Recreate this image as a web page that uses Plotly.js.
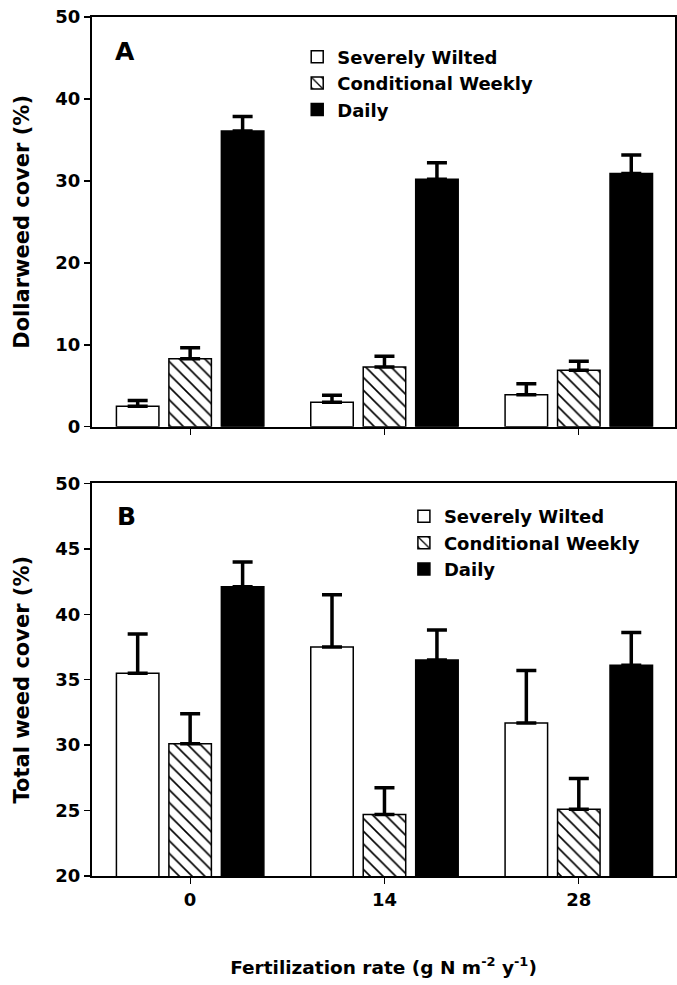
<!DOCTYPE html>
<html>
<head>
<meta charset="utf-8">
<script src="https://cdn.plot.ly/plotly-3.0.1.min.js"></script>
<style>
  html, body { margin: 0; padding: 0; background: #fff; }
  #chart { width: 677px; height: 985px; }
</style>
</head>
<body>
<div id="chart"></div>
<script>
// ---- Data ----
const categories = ['0', '14', '28'];
const seriesNames = ['Severely Wilted', 'Conditional Weekly', 'Daily'];

// Panel A: Dollarweed cover (%)
const dollarSevere = [2.5, 3.0, 3.9];
const dollarSevereErr = [0.7, 0.85, 1.35];
const dollarWeekly = [8.3, 7.3, 6.9];
const dollarWeeklyErr = [1.35, 1.3, 1.1];
const dollarDaily = [36.1, 30.2, 30.9];
const dollarDailyErr = [1.75, 2.0, 2.25];

// Panel B: Total weed cover (%)
const totalSevere = [35.5, 37.5, 31.7];
const totalSevereErr = [3.0, 4.0, 4.0];
const totalWeekly = [30.1, 24.7, 25.1];
const totalWeeklyErr = [2.3, 2.05, 2.35];
const totalDaily = [42.1, 36.5, 36.1];
const totalDailyErr = [1.9, 2.3, 2.5];

// ---- Styles ----
const FONT = 'DejaVu Sans';
const styles = [
  { color: '#ffffff', pattern: null },
  { color: '#ffffff', pattern: { shape: '\\', fgcolor: '#000000', bgcolor: '#ffffff', size: 9, solidity: 0.18 } },
  { color: '#000000', pattern: null }
];

function makeBar(name, y, err, idx, xa, ya, legendId) {
  const st = styles[idx];
  const marker = { color: st.color, line: { color: '#000000', width: 1.5 } };
  if (st.pattern) marker.pattern = st.pattern;
  return {
    type: 'bar',
    name: name,
    x: categories,
    y: y,
    xaxis: xa,
    yaxis: ya,
    legend: legendId,
    showlegend: true,
    marker: marker,
    error_y: {
      type: 'data',
      symmetric: false,
      array: err,
      arrayminus: err.map(() => 0),
      color: '#000000',
      thickness: 3.5,
      width: 10
    },
    hoverinfo: 'skip'
  };
}

const traces = [
  makeBar(seriesNames[0], dollarSevere, dollarSevereErr, 0, 'x2', 'y2', 'legend'),
  makeBar(seriesNames[1], dollarWeekly, dollarWeeklyErr, 1, 'x2', 'y2', 'legend'),
  makeBar(seriesNames[2], dollarDaily, dollarDailyErr, 2, 'x2', 'y2', 'legend'),
  makeBar(seriesNames[0], totalSevere, totalSevereErr, 0, 'x', 'y', 'legend2'),
  makeBar(seriesNames[1], totalWeekly, totalWeeklyErr, 1, 'x', 'y', 'legend2'),
  makeBar(seriesNames[2], totalDaily, totalDailyErr, 2, 'x', 'y', 'legend2')
];

const tickFont = { family: FONT, size: 18, color: '#000', weight: 'bold' };
const titleFont = { family: FONT, size: 21, color: '#000', weight: 'bold' };
const legendFont = { family: FONT, size: 18, color: '#000', weight: 'bold' };

const xCommon = {
  type: 'category',
  range: [-0.505, 2.495],
  showline: true, linecolor: '#000', linewidth: 2, mirror: true,
  ticks: 'outside', ticklen: 6, tickwidth: 1, tickcolor: '#000',
  showgrid: false, zeroline: false,
  tickfont: tickFont
};
const yCommon = {
  showline: true, linecolor: '#000', linewidth: 2, mirror: true,
  ticks: 'outside', ticklen: 6, tickwidth: 1.5, tickcolor: '#000',
  showgrid: false, zeroline: false,
  tickfont: tickFont
};

const layout = {
  width: 677,
  height: 985,
  margin: { l: 92, r: 2, t: 17, b: 109 },
  paper_bgcolor: '#fff',
  plot_bgcolor: '#fff',
  font: { family: FONT, size: 18, color: '#000', weight: 'bold' },
  barmode: 'group',
  bargap: 0.19,
  bargroupgap: 0.19,
  xaxis: Object.assign({}, xCommon, {
    anchor: 'y',
    title: { text: 'Fertilization rate (g N m<sup>-2</sup> y<sup>-1</sup>)', font: { family: FONT, size: 18.5, color: '#000', weight: 'bold' }, standoff: 52 }
  }),
  yaxis: Object.assign({}, yCommon, {
    domain: [0, 0.457],
    range: [20, 50],
    dtick: 5,
    title: { text: 'Total weed cover (%)', font: titleFont, standoff: 20 }
  }),
  xaxis2: Object.assign({}, xCommon, {
    anchor: 'y2',
    showticklabels: false
  }),
  yaxis2: Object.assign({}, yCommon, {
    domain: [0.523, 1],
    range: [0, 50],
    dtick: 10,
    title: { text: 'Dollarweed cover (%)', font: titleFont, standoff: 20 }
  }),
  legend: {
    x: 0.352, xanchor: 'left', xref: 'paper',
    y: 0.975, yanchor: 'top', yref: 'paper',
    bgcolor: 'rgba(0,0,0,0)', borderwidth: 0,
    font: legendFont, traceorder: 'normal'
  },
  legend2: {
    x: 0.535, xanchor: 'left', xref: 'paper',
    y: 0.44, yanchor: 'top', yref: 'paper',
    bgcolor: 'rgba(0,0,0,0)', borderwidth: 0,
    font: legendFont, traceorder: 'normal'
  },
  annotations: [
    { text: 'A', xref: 'x2 domain', yref: 'y2 domain', x: 0.057, y: 0.915, xanchor: 'center', yanchor: 'middle', showarrow: false, font: { family: FONT, size: 25, color: '#000', weight: 'bold' } },
    { text: 'B', xref: 'x domain', yref: 'y domain', x: 0.059, y: 0.915, xanchor: 'center', yanchor: 'middle', showarrow: false, font: { family: FONT, size: 25, color: '#000', weight: 'bold' } }
  ],
  showlegend: true
};

Plotly.newPlot('chart', traces, layout, { staticPlot: true, displayModeBar: false });
</script>
</body>
</html>
